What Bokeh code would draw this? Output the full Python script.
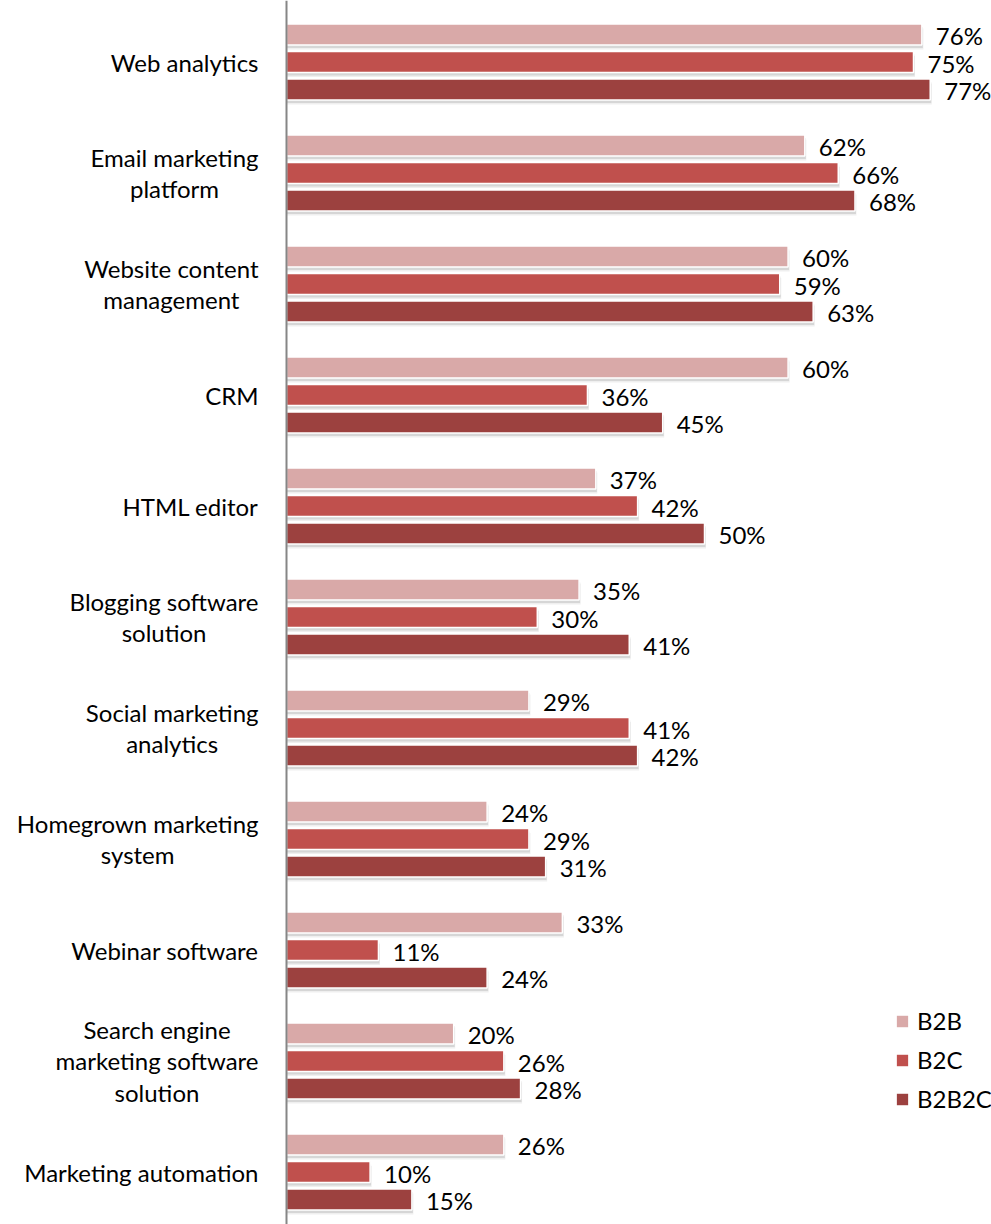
from bokeh.plotting import figure
from bokeh.models import ColumnDataSource, Range1d, Span, Legend, LegendItem
from bokeh.core.properties import value
from bokeh.embed import file_html
from bokeh.resources import INLINE

categories = ["Web analytics", "Email marketing\nplatform", "Website content\nmanagement", "CRM",
              "HTML editor", "Blogging software\nsolution", "Social marketing\nanalytics",
              "Homegrown marketing\nsystem", "Webinar software",
              "Search engine\nmarketing software\nsolution", "Marketing automation"]
b2b = [76, 62, 60, 60, 37, 35, 29, 24, 33, 20, 26]
b2c = [75, 66, 59, 36, 42, 30, 41, 29, 11, 26, 10]
b2b2c = [77, 68, 63, 45, 50, 41, 42, 31, 24, 28, 15]
series_names = ["B2B", "B2C", "B2B2C"]
colors = ["#D9A9A8", "#C0504D", "#9C413F"]

W, H = 991, 1224
PX_X = 8.36      # px per percent
PX_Y = 111.0     # px per category
x0 = -286 / PX_X
x1 = x0 + W / PX_X
y_top = -61.5 / PX_Y
y_bot = y_top + H / PX_Y

p = figure(width=W, height=H, output_backend="svg", toolbar_location=None,
           x_range=Range1d(x0, x1), y_range=Range1d(y_bot, y_top),
           min_border=0, min_border_left=0, min_border_right=0,
           min_border_top=0, min_border_bottom=0)
p.xaxis.visible = False
p.yaxis.visible = False
p.xgrid.visible = False
p.ygrid.visible = False
p.outline_line_color = None
p.background_fill_color = "white"
p.border_fill_color = "white"

idx = list(range(len(categories)))
offsets = [-0.248, 0.0, 0.248]
bar_h = 21 / PX_Y
font = value("Lato")

renderers = []
for vals, off, col, name in zip([b2b, b2c, b2b2c], offsets, colors, series_names):
    ys = [i + off for i in idx]
    # soft shadow
    for dy, dx, a in [(4.5, 1.5, 0.12), (3.0, 1.0, 0.22)]:
        sh = ColumnDataSource(dict(y=[y + dy / PX_Y for y in ys], right=[v + dx / PX_X for v in vals]))
        p.hbar(y="y", right="right", left=0, height=bar_h, source=sh,
               fill_color="#7F7F7F", fill_alpha=a, line_color=None)
    src = ColumnDataSource(dict(y=ys, right=vals, label=[f"{v}%" for v in vals]))
    r = p.hbar(y="y", right="right", left=0, height=bar_h, source=src,
               fill_color=col, line_color="white", line_width=1.5)
    renderers.append(r)
    p.text(x="right", y="y", text="label", source=src, x_offset=14, y_offset=1,
           text_font=font, text_font_size="24px", text_color="black",
           text_align="left", text_baseline="middle")

cat_src = ColumnDataSource(dict(x=[0] * len(categories), y=idx, text=categories))
p.text(x="x", y="y", text="text", source=cat_src, x_offset=-28,
       anchor="center_right", text_align="center", text_baseline="middle",
       text_line_height=1.1, text_font=font, text_font_size="24px", text_color="black")

p.add_layout(Span(location=0, dimension="height", line_color="#868686", line_width=2))

legend = Legend(items=[LegendItem(label=n, renderers=[r]) for n, r in zip(series_names, renderers)],
                location=(894, 111), orientation="vertical",
                glyph_width=16, glyph_height=16, label_standoff=7,
                label_height=26, spacing=10, padding=0, margin=0,
                label_text_font="Lato", label_text_font_size="24px", label_text_color="black",
                border_line_color=None, background_fill_alpha=0)
p.add_layout(legend)

open("out.html", "w").write(file_html(p, INLINE))
